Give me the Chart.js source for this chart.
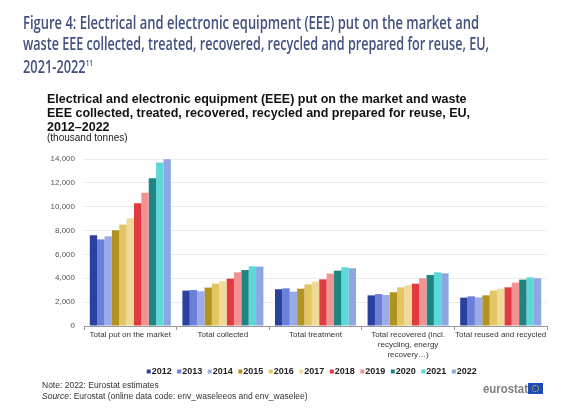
<!DOCTYPE html>
<html>
<head>
<meta charset="utf-8">
<script src="https://cdn.jsdelivr.net/npm/chart.js@4.4.1/dist/chart.umd.min.js"></script>
<style>
  html,body{margin:0;padding:0;background:#fff;}
  #wrap{position:relative;width:577px;height:416px;overflow:hidden;background:#fff;}
  #c{position:absolute;left:0;top:0;}
  .t{position:absolute;white-space:nowrap;transform-origin:0 50%;}
  .hd{font-family:"Open Sans",Lato,sans-serif;font-weight:600;font-size:18px;color:#42517f;line-height:20px;}
  .ct{font-family:"Liberation Sans",Arial,sans-serif;font-weight:700;font-size:12.5px;color:#111;line-height:14px;}
  .nt{font-family:"Liberation Sans",Arial,sans-serif;font-size:8.5px;color:#333;line-height:10px;}
  #flag{position:absolute;left:528px;top:383px;width:15px;height:11px;background:#1f4bb5;}
  #flag:after{content:"";position:absolute;left:4px;top:2px;width:5px;height:5px;border:1px dotted #f2d21b;border-radius:50%;}
</style>
</head>
<body>
<div id="wrap">
  <canvas id="c" width="577" height="416"></canvas>
  <div class="t hd" data-w="456" style="left:23px;top:12px;">Figure 4: Electrical and electronic equipment (EEE) put on the market and</div>
  <div class="t hd" data-w="466" style="left:23px;top:33px;">waste EEE collected, treated, recovered, recycled and prepared for reuse, EU,</div>
  <div class="t hd" data-w="70" style="left:23px;top:53px;">2021-2022<sup style="font-size:9px;vertical-align:7px;">11</sup></div>
  <div class="t ct" style="left:47px;top:92px;">Electrical and electronic equipment (EEE) put on the market and waste</div>
  <div class="t ct" style="left:47px;top:106px;">EEE collected, treated, recovered, recycled and prepared for reuse, EU,</div>
  <div class="t ct" style="left:47px;top:120px;">2012–2022</div>
  <div class="t nt" style="left:47px;top:133px;font-size:10px;color:#222;">(thousand tonnes)</div>
  <div class="t nt" style="left:42px;top:380px;">Note: 2022: Eurostat estimates</div>
  <div class="t nt" style="left:42px;top:391px;"><i>Source</i>: Eurostat (online data code: env_waseleeos and env_waselee)</div>
  <div class="t" data-w="45" style="left:483px;top:381px;font-family:'Liberation Sans',Arial,sans-serif;font-weight:700;font-size:13px;color:#808080;line-height:16px;">eurostat</div>
  <div id="flag"></div>
</div>
<script>
// ---- data (thousand tonnes) ----
const categories = [
  'Total put on the market',
  'Total collected',
  'Total treatment',
  ['Total recovered (incl.', 'recycling, energy', 'recovery…)'],
  'Total reused and recycled'
];
const years = ['2012','2013','2014','2015','2016','2017','2018','2019','2020','2021','2022'];
const s2012 = [7600, 2970, 3080, 2570, 2380];
const s2013 = [7260, 3020, 3160, 2680, 2490];
const s2014 = [7520, 2910, 2880, 2600, 2400];
const s2015 = [8020, 3220, 3130, 2830, 2570];
const s2016 = [8500, 3550, 3490, 3240, 2970];
const s2017 = [9030, 3750, 3720, 3410, 3130];
const s2018 = [10290, 3970, 3910, 3550, 3240];
const s2019 = [11180, 4500, 4390, 4000, 3640];
const s2020 = [12380, 4690, 4640, 4280, 3890];
const s2021 = [13700, 5000, 4920, 4500, 4080];
const s2022 = [13970, 4980, 4840, 4420, 4000];
const yTicks = [0, 2000, 4000, 6000, 8000, 10000, 12000, 14000];

const seriesValues = [s2012,s2013,s2014,s2015,s2016,s2017,s2018,s2019,s2020,s2021,s2022];
const colors = ['#2a41a2','#6b80d9','#9babe8','#b3931f','#e3c563','#efda9b','#e03b40','#f09392','#1f8583','#5ed7d9','#8ea7e2'];

// fit header widths
document.querySelectorAll('[data-w]').forEach(el=>{
  const w = el.getBoundingClientRect().width;
  const target = parseFloat(el.dataset.w);
  if (w>0) el.style.transform = 'scaleX(' + (target/w) + ')';
});

// small legend swatch placed right next to its label
function swatch(color){
  const c = document.createElement('canvas');
  c.width = 20; c.height = 8;
  const g = c.getContext('2d');
  g.fillStyle = color;
  g.fillRect(10, 2, 4, 4);
  return c;
}
const swatches = colors.map(swatch);

const shiftLegend = {
  id: 'shiftLegend',
  afterLayout(chart) {
    const l = chart.legend;
    if (l) { l.left += 23; l.right += 23; }
  }
};

new Chart(document.getElementById('c'), {
  type: 'bar',
  data: {
    labels: categories,
    datasets: years.map((y,i)=>({
      label: y,
      data: seriesValues[i],
      backgroundColor: colors[i],
      borderWidth: 0,
      categoryPercentage: 0.875,
      barPercentage: 1.0
    }))
  },
  plugins: [shiftLegend],
  options: {
    responsive: false,
    animation: false,
    devicePixelRatio: 1,
    layout: { padding: { left: 30, right: 30, top: 159, bottom: 30 } },
    plugins: {
      title: { display: false },
      tooltip: { enabled: false },
      legend: {
        display: true,
        position: 'bottom',
        align: 'center',
        labels: {
          usePointStyle: true,
          boxWidth: 1, boxHeight: 4, padding: 5,
          color: '#222',
          font: { family: '"Liberation Sans", Arial, sans-serif', size: 9, weight: 'bold' },
          generateLabels: chart => Chart.defaults.plugins.legend.labels.generateLabels(chart)
            .map((it, i) => Object.assign(it, { pointStyle: swatches[i] }))
        }
      }
    },
    scales: {
      x: {
        grid: { display: true, offset: true, drawOnChartArea: false, drawTicks: true, tickLength: 4, color: '#999' },
        border: { display: true, color: '#999' },
        ticks: {
          color: '#333', padding: 0, maxRotation: 0, autoSkip: false,
          font: { family: '"Liberation Sans", Arial, sans-serif', size: 8, lineHeight: 1.25 }
        },
        afterFit: s => { s.height = 36; }
      },
      y: {
        min: 0, max: 14000,
        afterBuildTicks: s => { s.ticks = yTicks.map(v=>({value:v})); },
        grid: { color: '#ececec', drawTicks: false },
        border: { display: false },
        ticks: {
          color: '#555', padding: 9,
          font: { family: '"Liberation Sans", Arial, sans-serif', size: 8 },
          callback: v => v.toLocaleString('en-US')
        },
        afterFit: s => { s.width = 54; }
      }
    }
  }
});
</script>
</body>
</html>
